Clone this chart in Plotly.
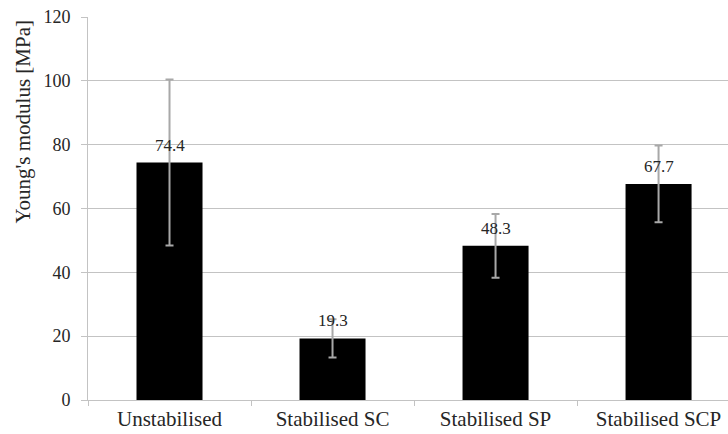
import plotly.graph_objects as go

categories = ["Unstabilised", "Stabilised SC", "Stabilised SP", "Stabilised SCP"]
values = [74.4, 19.3, 48.3, 67.7]
errors = [26.0, 6.0, 10.0, 12.0]
labels = ["74.4", "19.3", "48.3", "67.7"]
y_ticks = [0, 20, 40, 60, 80, 100, 120]
y_title = "Young's modulus [MPa]"

FONT = "Liberation Serif"
GRID = "#c3c3c3"
TXT = "#262626"

fig = go.Figure()
fig.add_trace(go.Bar(
    x=categories, y=values,
    marker=dict(color="#000000", line=dict(width=0)),
    width=0.405,
    error_y=dict(type="data", array=errors, visible=True,
                 color="#a8a8a8", thickness=2, width=4),
    showlegend=False,
))

for c, v, t in zip(categories, values, labels):
    fig.add_annotation(x=c, y=v, text=t, showarrow=False,
                       yanchor="bottom", yshift=6,
                       font=dict(family=FONT, size=17, color=TXT))

fig.add_annotation(xref="paper", yref="paper", x=-0.1016, y=0.727,
                   text=y_title, textangle=-90, showarrow=False,
                   xanchor="center", yanchor="middle",
                   font=dict(family=FONT, size=21, color=TXT))

fig.update_layout(
    width=728, height=434,
    margin=dict(l=88, r=0, t=17, b=34),
    paper_bgcolor="white", plot_bgcolor="white",
    font=dict(family=FONT, color=TXT),
)
fig.update_xaxes(
    range=[-0.5, 3.426],
    showline=True, linecolor=GRID, linewidth=1,
    ticks="outside", tickson="boundaries", ticklen=5, tickcolor=GRID,
    tickfont=dict(family=FONT, size=21, color=TXT),
    showgrid=False,
)
fig.update_yaxes(
    range=[0, 120], tickvals=y_ticks,
    showline=True, linecolor=GRID, linewidth=1,
    ticks="outside", ticklen=6, tickcolor=GRID,
    showgrid=True, gridcolor=GRID, gridwidth=1,
    zeroline=False,
    ticklabelstandoff=7,
    tickfont=dict(family=FONT, size=18, color=TXT),
)

fig.write_html("out.html")
